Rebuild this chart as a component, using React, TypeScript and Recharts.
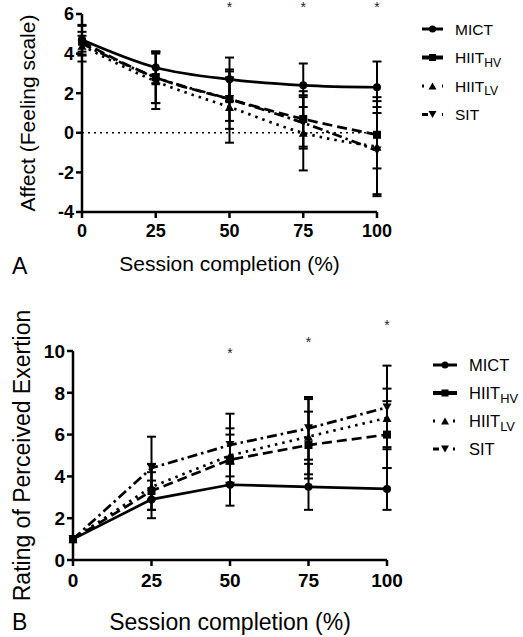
import React from 'react';
import {
  ComposedChart,
  Line,
  XAxis,
  YAxis,
  ErrorBar,
  ReferenceLine,
  ReferenceDot,
  Label
} from 'recharts';

// session completion (%)
const sessionPct = [0, 25, 50, 75, 100];
const xTicks = [0, 25, 50, 75, 100];

// Panel A: affect (feeling scale), mean and SD
const affectMICT = [4.7, 3.3, 2.7, 2.4, 2.3];
const affectMICTErr = [0.75, 0.8, 1.1, 1.1, 1.3];
const affectHIITHV = [4.6, 2.8, 1.7, 0.7, -0.1];
const affectHIITHVErr = [0.5, 1.3, 1.5, 1.4, 1.7];
const affectHIITLV = [4.4, 2.6, 1.3, 0.0, -0.7];
const affectHIITLVErr = [0.5, 1.4, 1.8, 1.9, 2.5];
const affectSIT = [4.5, 2.8, 1.7, 0.5, -0.9];
const affectSITErr = [0.9, 1.3, 1.1, 1.3, 2.2];
const affectTicks = [-4, -2, 0, 2, 4, 6];
const affectStarX = [50, 75, 100];
const affectStarY = [6.45, 6.45, 6.45];

// Panel B: rating of perceived exertion, mean and SD
const rpeMICT = [1.0, 2.9, 3.6, 3.5, 3.4];
const rpeMICTErr = [0, 0.9, 1.0, 1.1, 1.0];
const rpeHIITHV = [1.0, 3.3, 4.8, 5.5, 6.0];
const rpeHIITHVErr = [0, 0.9, 1.2, 1.6, 1.6];
const rpeHIITLV = [1.0, 3.5, 5.0, 5.9, 6.8];
const rpeHIITLVErr = [0, 1.1, 1.3, 1.8, 1.4];
const rpeSIT = [1.0, 4.4, 5.5, 6.3, 7.3];
const rpeSITErr = [0, 1.5, 1.5, 1.5, 2.0];
const rpeTicks = [0, 2, 4, 6, 8, 10];
const rpeStarX = [50, 75, 100];
const rpeStarY = [10.0, 10.55, 11.35];

const FONT = '"Liberation Sans", Arial, Helvetica, sans-serif';

type Shape = 'circle' | 'square' | 'up' | 'down';

const Marker = ({ cx, cy, shape, s }: { cx: number; cy: number; shape: Shape; s: number }) => {
  if (cx == null || cy == null) return null;
  if (shape === 'circle') return <circle cx={cx} cy={cy} r={s / 2} fill="#000" />;
  if (shape === 'square') return <rect x={cx - s / 2} y={cy - s / 2} width={s} height={s} fill="#000" />;
  const h = s * 0.9;
  if (shape === 'up')
    return <polygon points={`${cx - s / 2},${cy + h / 2} ${cx + s / 2},${cy + h / 2} ${cx},${cy - h / 2}`} fill="#000" />;
  return <polygon points={`${cx - s / 2},${cy - h / 2} ${cx + s / 2},${cy - h / 2} ${cx},${cy + h / 2}`} fill="#000" />;
};

const makeDot = (shape: Shape, s: number) => (props: any) => (
  <Marker key={`${shape}-${props.index}`} cx={props.cx} cy={props.cy} shape={shape} s={s} />
);

const SERIES = [
  { key: 'mict', name: 'MICT', sub: '', shape: 'circle' as Shape, size: 8, dash: undefined, legendDash: undefined },
  { key: 'hv', name: 'HIIT', sub: 'HV', shape: 'square' as Shape, size: 8, dash: '10 5', legendDash: undefined },
  { key: 'lv', name: 'HIIT', sub: 'LV', shape: 'up' as Shape, size: 9, dash: '2.5 5', legendDash: '2 18' },
  { key: 'sit', name: 'SIT', sub: '', shape: 'down' as Shape, size: 9, dash: '10 4 2.5 4', legendDash: '6 14 2 10' }
];

const affectData = sessionPct.map((x, i) => ({
  x,
  mict: affectMICT[i], mictErr: affectMICTErr[i],
  hv: affectHIITHV[i], hvErr: affectHIITHVErr[i],
  lv: affectHIITLV[i], lvErr: affectHIITLVErr[i],
  sit: affectSIT[i], sitErr: affectSITErr[i]
}));

const rpeData = sessionPct.map((x, i) => ({
  x,
  mict: rpeMICT[i], mictErr: rpeMICTErr[i],
  hv: rpeHIITHV[i], hvErr: rpeHIITHVErr[i],
  lv: rpeHIITLV[i], lvErr: rpeHIITLVErr[i],
  sit: rpeSIT[i], sitErr: rpeSITErr[i]
}));

const xTitle = (dy: number, size: number) => (props: any) => {
  const vb = props.viewBox;
  return (
    <text x={vb.x + vb.width / 2} y={vb.y + dy} textAnchor="middle" dominantBaseline="central"
      fontSize={size} fontFamily={FONT} fill="#000">
      Session completion (%)
    </text>
  );
};

const yTitle = (text: string, cx: number, size: number) => (props: any) => {
  const vb = props.viewBox;
  const cy = vb.y + vb.height / 2;
  return (
    <text x={cx} y={cy} transform={`rotate(-90 ${cx} ${cy})`} textAnchor="middle" dominantBaseline="central"
      fontSize={size} fontFamily={FONT} fill="#000">
      {text}
    </text>
  );
};

const Star = (props: any) => (
  <text x={props.cx} y={props.cy} dy={7} textAnchor="middle" fontSize={14} fontFamily={FONT} fill="#222">*</text>
);

const Legend = ({ top, left, gap, fontSize, lineW }: { top: number; left: number; gap: number; fontSize: number; lineW: number }) => (
  <svg width={100} height={gap * 4 + 10} style={{ position: 'absolute', top, left, overflow: 'visible' }}>
    {SERIES.map((s, i) => {
      const y = 10 + i * gap;
      return (
        <g key={s.key}>
          <line x1={0} x2={lineW} y1={y} y2={y} stroke="#000" strokeWidth={s.key === 'hv' ? 4 : 3}
            strokeDasharray={s.legendDash} />
          <Marker cx={lineW / 2} cy={y} shape={s.shape} s={s.size - 1} />
          <text x={lineW + 12} y={y} dominantBaseline="central" fontSize={fontSize} fontFamily={FONT} fill="#000">
            {s.name}
            {s.sub && <tspan fontSize={fontSize * 0.78} dy={5}>{s.sub}</tspan>}
          </text>
        </g>
      );
    })}
  </svg>
);

const axisLine = { stroke: '#000', strokeWidth: 2.5 };

const Panel = ({
  data, width, height, margin, yWidth, xHeight, domain, yTicks, lineType,
  tickSize, xTickMargin, xTitleDy, titleSize, yTitleText, yTitleX, starX, starY, zeroLine
}: any) => (
  <ComposedChart width={width} height={height} data={data} margin={margin} style={{ fontFamily: FONT }}>
    <XAxis dataKey="x" type="number" domain={[0, 100]} ticks={xTicks} interval={0}
      axisLine={axisLine} tickLine={axisLine} tickSize={6} tickMargin={xTickMargin} height={xHeight}
      tick={{ fontSize: tickSize, fontWeight: 'bold', fill: '#000' }}>
      <Label content={xTitle(xTitleDy, titleSize)} />
    </XAxis>
    <YAxis type="number" domain={[domain[0], domain[1]]} ticks={yTicks} interval={0} allowDataOverflow
      axisLine={axisLine} tickLine={axisLine} tickSize={6} tickMargin={2} width={yWidth}
      tick={{ fontSize: tickSize, fontWeight: 'bold', fill: '#000' }}>
      <Label content={yTitle(yTitleText, yTitleX, titleSize)} />
    </YAxis>
    {zeroLine && <ReferenceLine y={0} stroke="#000" strokeWidth={1.5} strokeDasharray="2 4" />}
    {SERIES.map((s) => (
      <Line key={s.key} dataKey={s.key} type={lineType} stroke="#000" strokeWidth={2.7}
        strokeDasharray={s.dash} dot={makeDot(s.shape, s.size)} activeDot={false}
        isAnimationActive={false}>
        <ErrorBar dataKey={`${s.key}Err`} direction="y" width={4.5} strokeWidth={2} stroke="#000"
          isAnimationActive={false} />
      </Line>
    ))}
    {starX.map((x: number, i: number) => (
      <ReferenceDot key={`star-${x}`} x={x} y={starY[i]} r={0} ifOverflow="visible" shape={Star} />
    ))}
  </ComposedChart>
);

const letterStyle: React.CSSProperties = {
  position: 'absolute', left: 12, fontFamily: FONT, fontSize: 23, lineHeight: '23px', color: '#000'
};

export default function App() {
  return (
    <div style={{ position: 'absolute', top: 0, left: 0, width: 523, height: 637, background: '#fff', overflow: 'hidden' }}>
      <div style={{ position: 'absolute', top: 0, left: 0 }}>
        <Panel data={affectData} width={523} height={300}
          margin={{ top: 14, right: 146, left: 0, bottom: 28 }} yWidth={82} xHeight={60}
          domain={[-4, 6]} yTicks={affectTicks} lineType="monotone" tickSize={18} xTickMargin={6}
          xTitleDy={51} titleSize={21} yTitleText="Affect (Feeling scale)" yTitleX={27}
          starX={affectStarX} starY={affectStarY} zeroLine />
      </div>
      <div style={{ position: 'absolute', top: 300, left: 0 }}>
        <Panel data={rpeData} width={523} height={337}
          margin={{ top: 51, right: 136, left: 0, bottom: 7 }} yWidth={73} xHeight={70}
          domain={[0, 10]} yTicks={rpeTicks} lineType="linear" tickSize={19} xTickMargin={8}
          xTitleDy={62} titleSize={23} yTitleText="Rating of Perceived Exertion" yTitleX={22}
          starX={rpeStarX} starY={rpeStarY} zeroLine={false} />
      </div>
      <Legend top={19} left={422} gap={28.5} fontSize={15.5} lineW={21} />
      <Legend top={355} left={433} gap={28} fontSize={16.5} lineW={24} />
      <div style={{ ...letterStyle, top: 255 }}>A</div>
      <div style={{ ...letterStyle, top: 611 }}>B</div>
    </div>
  );
}
